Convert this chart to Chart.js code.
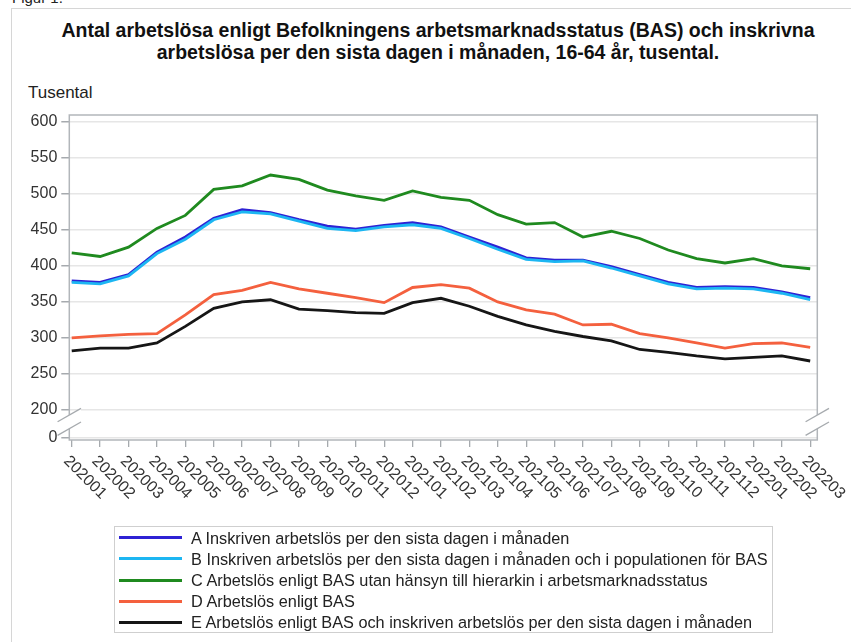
<!DOCTYPE html>
<html>
<head>
<meta charset="utf-8">
<script src="https://cdn.jsdelivr.net/npm/chart.js@4.4.1/dist/chart.umd.min.js"></script>
<style>
  body { margin: 0; background: #fff; font-family: Arial, "Liberation Sans", sans-serif; }
  #wrap { position: relative; width: 851px; height: 642px; overflow: hidden; }
  #frame { position: absolute; left: 11px; top: 8px; width: 900px; height: 700px; border: 1px solid #d6d6d6; }
  #fig { position: absolute; left: 12px; top: -11px; font-size: 15px; color: #222; }
  #title { position: absolute; left: 0; top: 19px; width: 876px; text-align: center; font-weight: bold; font-size: 19.5px; line-height: 22px; color: #111; }
  #unit { position: absolute; left: 28px; top: 83px; font-size: 17px; color: #222; }
  .lline { position: absolute; height: 3px; width: 63px; left: 119px; }
  .ltext { position: absolute; left: 191px; font-size: 16.3px; line-height: 20px; color: #222; white-space: nowrap; }
  #legend { position: absolute; left: 114px; top: 526px; width: 657px; height: 105px; border: 1px solid #cfcfcf; }
  canvas { position: absolute; left: 0; top: 0; }
</style>
</head>
<body>
<div id="wrap">
  <div id="frame"></div>
  <div id="fig">Figur 1.</div>
  <div id="title">Antal arbetslösa enligt Befolkningens arbetsmarknadsstatus (BAS) och inskrivna<br>arbetslösa per den sista dagen i månaden, 16-64 år, tusental.</div>
  <div id="unit">Tusental</div>
  <div id="legend"></div>
  <canvas id="chart" width="851" height="642"></canvas>
</div>
<script>
// data
const months = ['202001','202002','202003','202004','202005','202006','202007','202008','202009',
  '202010','202011','202012','202101','202102','202103','202104','202105','202106','202107',
  '202108','202109','202110','202111','202112','202201','202202','202203'];
const serieA = [379,377,388,419,440,466,478,474,464,455,451,456,460,454,440,426,411,408,408,399,388,377,370,371,370,364,356];
const serieB = [377,375,386,417,437,464,475,472,462,452,449,454,457,452,438,423,409,406,407,397,386,375,368,369,368,362,353];
const serieC = [418,413,426,452,470,506,511,526,520,505,497,491,504,495,491,471,458,460,440,448,438,422,410,404,410,400,396];
const serieD = [300,303,305,306,332,360,366,377,368,362,356,349,370,374,369,350,339,333,318,319,306,300,293,286,292,293,287];
const serieE = [282,286,286,293,316,341,350,353,340,338,335,334,349,355,344,330,318,309,302,296,284,280,275,271,273,275,268];
const seriesLabels = [
  'A Inskriven arbetslös per den sista dagen i månaden',
  'B Inskriven arbetslös per den sista dagen i månaden och i populationen för BAS',
  'C Arbetslös enligt BAS utan hänsyn till hierarkin i arbetsmarknadsstatus',
  'D Arbetslös enligt BAS',
  'E Arbetslös enligt BAS och inskriven arbetslös per den sista dagen i månaden'
];
const yTickLabels = ['0','200','250','300','350','400','450','500','550','600'];

// styling
const colors = ['#2e22d4', '#1cb6f2', '#1f8a1f', '#f4603e', '#161616'];
const FONT = 'Arial, "Liberation Sans", sans-serif';
const BREAK_VALUE = 161.6;   // where "0" sits below the axis break

// html legend
const wrap = document.getElementById('wrap');
seriesLabels.forEach((lab, i) => {
  const cy = 537.7 + 21.15 * i;
  const l = document.createElement('div');
  l.className = 'lline';
  l.style.top = (cy - 1.5) + 'px';
  l.style.background = colors[i];
  wrap.appendChild(l);
  const t = document.createElement('div');
  t.className = 'ltext';
  t.style.top = (cy - 10) + 'px';
  t.textContent = lab;
  wrap.appendChild(t);
});

const toPts = arr => arr.map((v, i) => ({ x: i, y: v }));
const allSeries = [serieA, serieB, serieC, serieD, serieE];

const framePlugin = {
  id: 'frame',
  afterDraw(chart) {
    const ctx = chart.ctx;
    const { left, right, top, bottom } = chart.chartArea;
    const ys = chart.scales.y, xs = chart.scales.x;
    ctx.save();
    ctx.strokeStyle = '#b2b6ba';
    ctx.lineWidth = 1.5;
    ctx.strokeRect(left, top, right - left, bottom - top);
    // axis break
    const mid = (ys.getPixelForValue(200) + ys.getPixelForValue(BREAK_VALUE)) / 2 - 2;
    [left, right].forEach(xx => {
      const c1 = mid - 6.8, c2 = mid + 6.8;
      ctx.fillStyle = '#fff';
      ctx.beginPath();
      ctx.moveTo(xx - 11.7, c1 + 6.7);
      ctx.lineTo(xx + 11.7, c1 - 6.7);
      ctx.lineTo(xx + 11.7, c2 - 6.7);
      ctx.lineTo(xx - 11.7, c2 + 6.7);
      ctx.closePath();
      ctx.fill();
      ctx.strokeStyle = '#a6aaae';
      ctx.lineWidth = 1.3;
      [c1, c2].forEach(c => {
        ctx.beginPath();
        ctx.moveTo(xx - 11.7, c + 6.7);
        ctx.lineTo(xx + 11.7, c - 6.7);
        ctx.stroke();
      });
    });
    // rotated month labels
    ctx.fillStyle = '#333';
    ctx.font = '16px ' + FONT;
    ctx.textAlign = 'left';
    ctx.textBaseline = 'top';
    months.forEach((m, i) => {
      ctx.save();
      ctx.translate(xs.getPixelForValue(i), xs.top + 13);
      ctx.rotate(Math.PI / 4);
      ctx.fillText(m, 0, 0);
      ctx.restore();
    });
    ctx.restore();
  }
};

new Chart(document.getElementById('chart'), {
  type: 'line',
  data: {
    datasets: allSeries.map((s, i) => ({
      label: seriesLabels[i],
      data: toPts(s),
      borderColor: colors[i],
      borderWidth: 2.8,
      pointRadius: 0,
      tension: 0,
      fill: false,
      order: i === 1 ? 0 : (i === 0 ? 1 : 2)
    }))
  },
  options: {
    responsive: false,
    animation: false,
    layout: { padding: { top: 115, right: 33.7, left: 0, bottom: 0 } },
    plugins: { legend: { display: false }, title: { display: false }, tooltip: { enabled: false } },
    scales: {
      x: {
        type: 'linear', min: -0.085, max: 26.25,
        afterBuildTicks: s => { s.ticks = months.map((m, i) => ({ value: i })); },
        afterFit: s => { s.height = 202; },
        ticks: { display: false },
        grid: { drawOnChartArea: false, drawTicks: true, tickLength: 7, tickColor: '#a6aaae', lineWidth: 1.3 },
        border: { display: false }
      },
      y: {
        type: 'linear', min: 158.4, max: 609.3,
        afterBuildTicks: s => { s.ticks = yTickLabels.map(l => ({ value: l === '0' ? BREAK_VALUE : Number(l) })); },
        afterFit: s => { s.width = 69.3; },
        ticks: { callback: (v, i) => yTickLabels[i], color: '#333', font: { size: 16, family: FONT }, padding: 4 },
        grid: { color: '#e6e6e6', lineWidth: 1.5, drawTicks: true, tickLength: 8, tickColor: '#a6aaae' },
        border: { display: false }
      }
    }
  },
  plugins: [framePlugin]
});
</script>
</body>
</html>
